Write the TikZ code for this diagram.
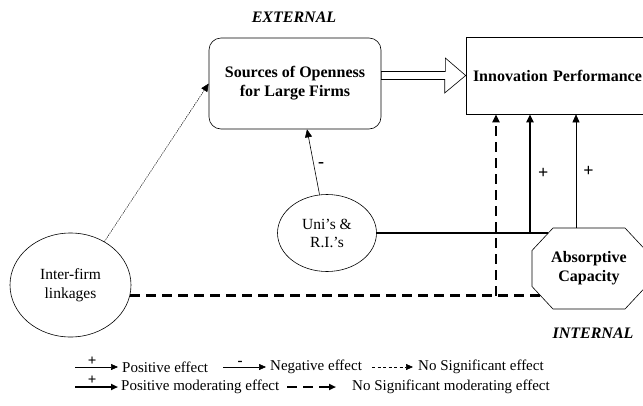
\documentclass[tikz,border=0pt]{standalone}
\usepackage{fontspec}
\setmainfont{Liberation Serif}
\usetikzlibrary{arrows.meta,shapes.geometric,calc}
\begin{document}
\begin{tikzpicture}[x=1pt,y=-1pt,
  tip/.style={-{Triangle[length=8pt,width=7pt]}},
  ltip/.style={-{Triangle[length=7pt,width=6pt]}},
  thinln/.style={line width=0.6pt},
  thickln/.style={line width=2.2pt},
  dashln/.style={line width=2.2pt, dash pattern=on 10pt off 6pt},
  dotln/.style={line width=0.6pt, dash pattern=on 1.2pt off 1.2pt},
  smalldash/.style={line width=0.6pt, dash pattern=on 3pt off 2.5pt},
  txt/.style={font=\fontsize{15}{17}\selectfont, inner sep=0pt},
  btxt/.style={font=\fontsize{16}{19}\selectfont\bfseries},
  lbl/.style={font=\fontsize{16}{19}\selectfont\bfseries\itshape},
  sign/.style={font=\fontsize{18}{18}\selectfont\bfseries, inner sep=0pt},
  lsign/.style={font=\fontsize{15}{15}\selectfont\bfseries, inner sep=0pt},
  ]
\useasboundingbox[fill=white] (0,0) rectangle (643,405);

% main nodes
\node[draw, thinln, rounded corners=12pt, minimum width=172pt, minimum height=91pt,
      align=center, btxt] (src) at (295,83.5) {Sources of Openness\\for Large Firms};
\node[draw, thinln, minimum height=77pt, text width=180pt, inner sep=7pt,
      align=left, btxt] (inn) at (563,75.5) {Innovation Performance};
\node[draw, thinln, ellipse, minimum width=99pt, minimum height=77pt, inner sep=0pt,
      align=center, font=\fontsize{15.5}{18}\selectfont] (uni) at (327,233) {Uni’s \&\\R.I.’s};
\node[draw, thinln, ellipse, minimum width=121pt, minimum height=104pt, inner sep=0pt,
      align=center, font=\fontsize{15.5}{19}\selectfont] (ifl) at (70.5,285) {Inter-firm\\linkages};
\node[inner sep=0pt, align=center, btxt] (abs) at (589,268.5) {Absorptive\\Capacity};
\draw[thinln] ($(abs)+(-57,-18)$) -- ($(abs)+(-36,-40.5)$) -- ($(abs)+(36,-40.5)$)
   -- ($(abs)+(57,-18)$) -- ($(abs)+(57,18)$) -- ($(abs)+(36,40.5)$)
   -- ($(abs)+(-36,40.5)$) -- ($(abs)+(-57,18)$) -- cycle;

\node[lbl] (ext) at (294,17) {EXTERNAL};
\node[lbl] (int) at (593,333) {INTERNAL};

% hollow arrow from Sources to Innovation
\coordinate (ah) at (inn.west);
\draw[thinln, fill=white] ($(src.east |- ah)+(0,-4)$) -- ++(64,0) -- ++(0,-13.5)
   -- (ah) -- ++(-21,17.5) -- ++(0,-13.5) -- ($(src.east |- ah)+(0,4)$) -- cycle;

% dotted: inter-firm -> sources
\draw[dotln, tip] (ifl.52) -- (src.west);

% negative: uni -> sources
\draw[thinln, tip] (uni.101) -- ([xshift=12pt]src.south)
   node[sign, pos=0.45, right=4pt] {-};

% thick moderating line
\coordinate (j1) at (uni.east -| 530,0);
\coordinate (a1) at (uni.east -| 548,0);
\draw[thickln] (uni.east) -- (a1);
\draw[thickln, tip] (j1) -- (j1 |- inn.south)
   node[sign, pos=0.5, right=7pt] {+};

% thin positive: absorptive -> innovation
\coordinate (j3) at ($(abs)+(-13,-40.5)$);
\draw[thinln, tip] (j3) -- (j3 |- inn.south)
   node[sign, pos=0.5, right=7pt] {+};

% dashed moderating line
\coordinate (j2) at (ifl.-10 -| 496,0);
\coordinate (a2) at (ifl.-10 -| 540,0);
\draw[dashln] (ifl.-10) -- (a2);
\draw[dashln, tip] (j2) -- (j2 |- inn.south);

% legend
\node[txt, anchor=west] (t1) at (122,367) {Positive effect};
\node[txt, anchor=west] (t2) at (270,367) {Negative effect};
\node[txt, anchor=west] (t3) at (418,367) {No Significant effect};
\node[txt, anchor=west] (t4) at (121,387) {Positive moderating effect};
\node[txt, anchor=west] (t5) at (352,387) {No Significant moderating effect};

\draw[thinln, ltip] ([xshift=-47pt]t1.west) -- ([xshift=-4pt]t1.west)
   node[lsign, pos=0.4, above=1pt] {+};
\draw[thinln, ltip] ([xshift=-47pt]t2.west) -- ([xshift=-4pt]t2.west)
   node[lsign, pos=0.4, above=1pt] {-};
\draw[smalldash, ltip] ([xshift=-46pt]t3.west) -- ([xshift=-5pt]t3.west);
\draw[thickln, ltip] ([xshift=-46pt]t4.west) -- ([xshift=-3pt]t4.west)
   node[lsign, pos=0.4, above=1pt] {+};
\draw[dashln, ltip] ([xshift=-65pt]t5.west) -- ([xshift=-16pt]t5.west);
\end{tikzpicture}
\end{document}
